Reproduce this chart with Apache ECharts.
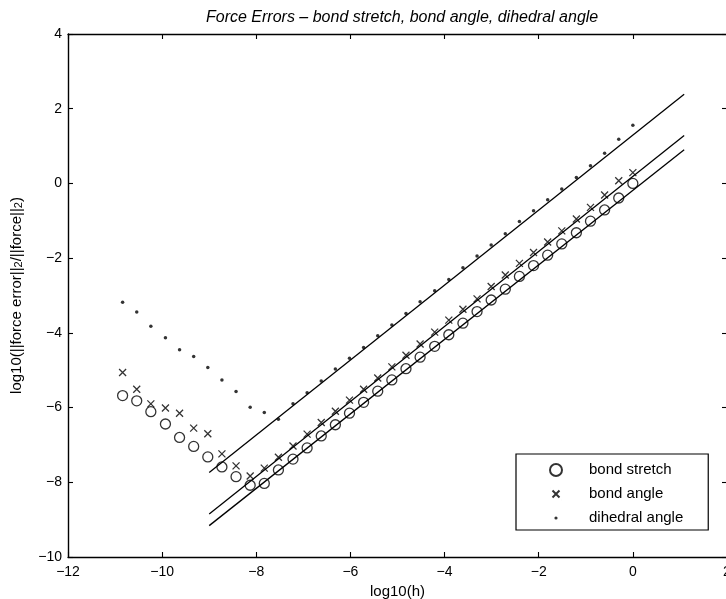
<!DOCTYPE html>
<html>
<head>
<meta charset="utf-8">
<script src="https://cdn.jsdelivr.net/npm/echarts@6/dist/echarts.min.js"></script>
<style>html,body{margin:0;padding:0;background:#fff}#c{width:726px;height:599px}</style>
</head>
<body>
<div id="c"></div>
<script>
// log10(h), h = 2^-36 ... 2^0
var logH = [-10.84,-10.54,-10.24,-9.93,-9.63,-9.33,-9.03,-8.73,-8.43,-8.13,-7.83,-7.53,-7.22,-6.92,-6.62,-6.32,-6.02,-5.72,-5.42,-5.12,-4.82,-4.52,-4.21,-3.91,-3.61,-3.31,-3.01,-2.71,-2.41,-2.11,-1.81,-1.51,-1.20,-0.90,-0.60,-0.30,0.00];
var bondStretch = [-5.68,-5.82,-6.11,-6.44,-6.80,-7.04,-7.32,-7.59,-7.85,-8.08,-8.03,-7.67,-7.38,-7.08,-6.76,-6.46,-6.15,-5.86,-5.56,-5.26,-4.96,-4.65,-4.36,-4.05,-3.74,-3.43,-3.12,-2.83,-2.49,-2.20,-1.92,-1.62,-1.32,-1.01,-0.71,-0.39,0.00];
var bondAngle = [-5.06,-5.51,-5.90,-6.01,-6.15,-6.55,-6.70,-7.24,-7.56,-7.83,-7.62,-7.33,-7.03,-6.71,-6.40,-6.10,-5.80,-5.51,-5.21,-4.91,-4.60,-4.30,-3.98,-3.66,-3.37,-3.09,-2.76,-2.45,-2.14,-1.85,-1.57,-1.27,-0.95,-0.64,-0.31,0.07,0.29];
var dihedralAngle = [-3.18,-3.44,-3.82,-4.13,-4.45,-4.63,-4.93,-5.26,-5.57,-5.99,-6.13,-6.31,-5.90,-5.60,-5.29,-4.97,-4.68,-4.39,-4.08,-3.79,-3.48,-3.17,-2.87,-2.57,-2.26,-1.94,-1.65,-1.35,-1.02,-0.73,-0.44,-0.15,0.16,0.47,0.81,1.18,1.56];
// fitted reference lines: [x, y] endpoints
var fitStretch = [[-9.0,-9.16],[1.09,0.90]];
var fitAngle = [[-9.0,-8.85],[1.09,1.28]];
var fitDihedral = [[-9.0,-7.74],[1.09,2.39]];
var xTicks = {min:-12, max:2, step:2};
var yTicks = {min:-10, max:4, step:2};

var FONT = 'Liberation Sans, Arial, Helvetica, sans-serif';
function zip(xs, ys){ return xs.map(function(x,i){ return [x, ys[i]]; }); }
function minus(v){ return String(v).replace('-', '\u2212'); }

var crossPath = 'path://M0,0L10,10M10,0L0,10';
var crossIcon = 'path://M0,0L0.01,0M12,12L12.01,12M2.5,2.5L9.5,9.5M9.5,2.5L2.5,9.5';
var dotIcon = 'path://M0,0L0.01,0M12,12L12.01,12M4.4,6A1.6,1.6,0,1,1,7.6,6A1.6,1.6,0,1,1,4.4,6Z';

var chart = echarts.init(document.getElementById('c'), null, {renderer:'canvas'});
var axisLine = {show:true, onZero:false, lineStyle:{color:'#000', width:1.4}};
var tick = {show:true, inside:true, length:5, lineStyle:{color:'#000', width:1.1}};
var lineSeries = function(d){ return {type:'line', data:d, symbol:'none', silent:true, lineStyle:{color:'#000', width:1.3}, z:1, animation:false}; };

chart.setOption({
  animation:false,
  backgroundColor:'#fff',
  textStyle:{fontFamily:FONT},
  title:{
    text:'Force Errors \u2013 bond stretch, bond angle, dihedral angle',
    left:201, top:5,
    textStyle:{fontFamily:FONT, fontSize:16, fontStyle:'italic', fontWeight:'normal', color:'#000'}
  },
  grid:{left:68, top:34, width:659, height:523, containLabel:false, outerBoundsMode:'none'},
  xAxis:[{
    type:'value', min:xTicks.min, max:xTicks.max, interval:xTicks.step, position:'bottom',
    name:'log10(h)', nameLocation:'middle', nameGap:20,
    nameTextStyle:{fontFamily:FONT, fontSize:15, color:'#000'},
    axisLine:axisLine, axisTick:tick, splitLine:{show:false},
    axisLabel:{fontFamily:FONT, fontSize:14, color:'#000', margin:8, formatter:minus, showMaxLabel:true}
  },{
    type:'value', min:xTicks.min, max:xTicks.max, interval:xTicks.step, position:'top',
    axisLine:axisLine, axisTick:tick, splitLine:{show:false}, axisLabel:{show:false}
  }],
  yAxis:[{
    type:'value', min:yTicks.min, max:yTicks.max, interval:yTicks.step, position:'left',
    name:'log10(||force error||{s|2}/||force||{s|2})', nameLocation:'middle', nameGap:44,
    nameTextStyle:{fontFamily:FONT, fontSize:15, color:'#000', rich:{s:{fontFamily:FONT, fontSize:11, color:'#000', verticalAlign:'bottom', lineHeight:10}}},
    axisLine:axisLine, axisTick:tick, splitLine:{show:false},
    axisLabel:{fontFamily:FONT, fontSize:14, color:'#000', margin:6, formatter:minus}
  },{
    type:'value', min:yTicks.min, max:yTicks.max, interval:yTicks.step, position:'right',
    axisLine:axisLine, axisTick:tick, splitLine:{show:false}, axisLabel:{show:false}
  }],
  legend:{
    orient:'vertical', left:516, top:454,
    backgroundColor:'#fff', borderColor:'#000', borderWidth:1.2,
    padding:[8,25,4,33], itemGap:8, itemWidth:12, itemHeight:12,
    textStyle:{fontFamily:FONT, fontSize:15, color:'#000', lineHeight:16, padding:[0,0,0,22]},
    selectedMode:false,
    data:[
      {name:'bond stretch', icon:'circle'},
      {name:'bond angle', icon:crossIcon},
      {name:'dihedral angle', icon:dotIcon}
    ]
  },
  series:[
    lineSeries(fitStretch), lineSeries(fitAngle), lineSeries(fitDihedral),
    {type:'scatter', name:'bond stretch', data:zip(logH, bondStretch), symbol:'circle', symbolSize:10,
     itemStyle:{color:'rgba(0,0,0,0)', borderColor:'#000', borderWidth:1.3}, z:3},
    {type:'scatter', name:'bond angle', data:zip(logH, bondAngle), symbol:crossPath, symbolSize:7,
     itemStyle:{color:'rgba(0,0,0,0)', borderColor:'#000', borderWidth:1.3}, z:3},
    {type:'scatter', name:'dihedral angle', data:zip(logH, dihedralAngle), symbol:'circle', symbolSize:3.5,
     itemStyle:{color:'#000', borderWidth:0}, z:3}
  ]
});
</script>
</body>
</html>
